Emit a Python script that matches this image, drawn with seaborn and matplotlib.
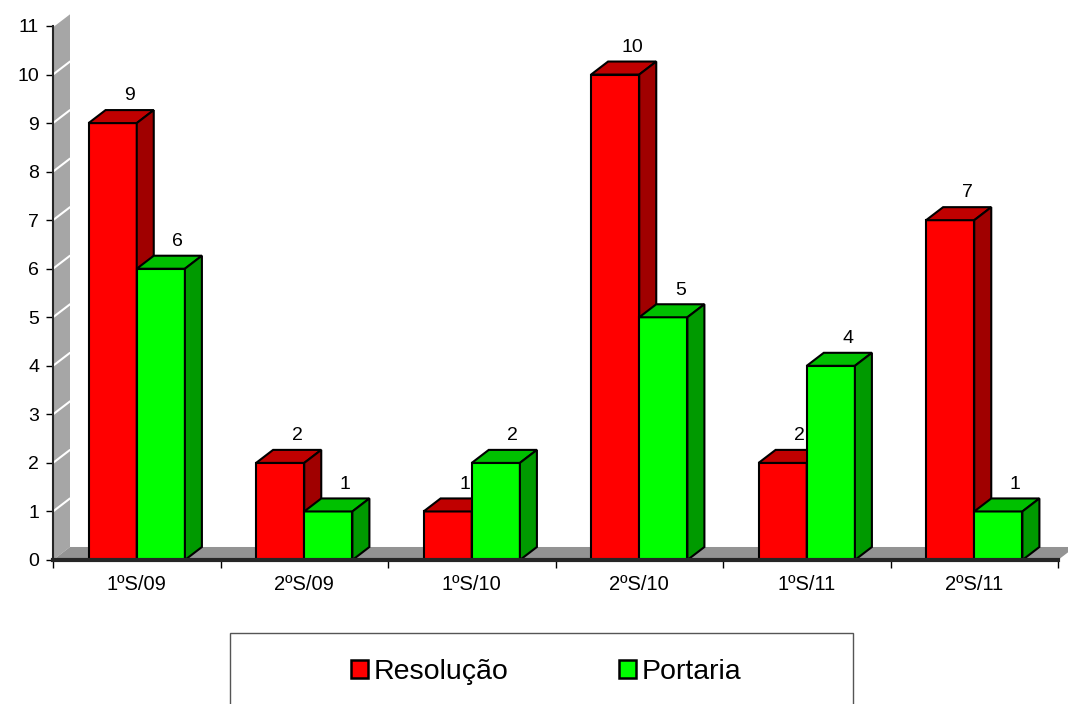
import numpy as np
import pandas as pd
import seaborn as sns
import matplotlib.pyplot as plt
from matplotlib.patches import Polygon, Patch, Rectangle

# dados
periodos = ['1ºS/09', '2ºS/09', '1ºS/10', '2ºS/10', '1ºS/11', '2ºS/11']
resolucao = [9, 2, 1, 10, 2, 7]
portaria = [6, 1, 2, 5, 4, 1]
series = ['Resolução', 'Portaria']

cores_frente = {'Resolução': '#FF0000', 'Portaria': '#00FF00'}
cores_topo = {'Resolução': '#C00000', 'Portaria': '#00C000'}
cores_lado = {'Resolução': '#A00000', 'Portaria': '#009A00'}

df = pd.DataFrame({
    'periodo': periodos * 2,
    'valor': resolucao + portaria,
    'tipo': [series[0]] * len(periodos) + [series[1]] * len(periodos),
})

sns.set_style('white')
plt.rcParams['font.family'] = ['Liberation Sans', 'DejaVu Sans']
plt.rcParams['text.color'] = 'black'
plt.rcParams['xtick.color'] = 'black'
plt.rcParams['ytick.color'] = 'black'

fig = plt.figure(figsize=(10.68, 7.04), dpi=100)
ax = fig.add_axes([53 / 1068, 144 / 704, 1005 / 1068, 534 / 704])
ax.set_facecolor('none')

# profundidade do efeito 3D (em unidades de dados)
dx = 0.1015
dy = 0.268

# parede e piso
ax.add_patch(Polygon([(-0.5, 0), (-0.5 + dx, dy), (-0.5 + dx, 11 + dy), (-0.5, 11)],
                     closed=True, facecolor='#A6A6A6', edgecolor='none', zorder=0, clip_on=False))
for k in range(1, 12):
    ax.plot([-0.5, -0.5 + dx], [k, k + dy], color='white', lw=1.5, zorder=0.5, clip_on=False)
ax.add_patch(Polygon([(-0.5, 0), (5.5, 0), (5.5 + dx, dy), (-0.5 + dx, dy)],
                     closed=True, facecolor='#939393', edgecolor='none', zorder=0.6, clip_on=False))

sns.barplot(data=df, x='periodo', y='valor', hue='tipo', palette=cores_frente,
            width=0.575, edgecolor='black', linewidth=1.5, saturation=1,
            legend=False, ax=ax)

for i, cont in enumerate(ax.containers):
    nome = series[i]
    z = 2 + i
    for p in cont.patches:
        p.set_zorder(z)
        x0 = p.get_x()
        w = p.get_width()
        h = p.get_height()
        topo = [(x0, h), (x0 + dx, h + dy), (x0 + w + dx, h + dy), (x0 + w, h)]
        lado = [(x0 + w, 0), (x0 + w, h), (x0 + w + dx, h + dy), (x0 + w + dx, dy)]
        ax.add_patch(Polygon(topo, closed=True, facecolor=cores_topo[nome],
                             edgecolor='black', lw=1.5, zorder=z, clip_on=False))
        ax.add_patch(Polygon(lado, closed=True, facecolor=cores_lado[nome],
                             edgecolor='black', lw=1.5, zorder=z, clip_on=False))
        ax.text(x0 + w / 2 + dx, h + dy + 0.2, f'{int(h)}', ha='center', va='baseline',
                fontsize=14, zorder=5)

ax.set_xlim(-0.5, 5.5)
ax.set_ylim(0, 11)
ax.set_yticks(range(0, 12))
ax.set_xlabel('')
ax.set_ylabel('')

for s in ['top', 'right']:
    ax.spines[s].set_visible(False)
ax.spines['left'].set_linewidth(1.5)
ax.spines['bottom'].set_linewidth(3)
ax.spines['left'].set_zorder(6)
ax.spines['bottom'].set_zorder(6)

ax.tick_params(axis='y', direction='out', length=5, width=1, left=True, labelsize=14, pad=5)
ax.tick_params(axis='x', which='major', length=0, labelsize=14.5, pad=11)
ax.set_xticks(np.arange(-0.5, 6, 1), minor=True)
ax.tick_params(axis='x', which='minor', direction='out', length=6, width=1, bottom=True)

# legenda
fig.add_artist(Rectangle((230 / 1068, -0.05), 623 / 1068, 0.05 + 71 / 704,
                         transform=fig.transFigure, facecolor='white',
                         edgecolor='#555555', lw=1))
handles = [Patch(facecolor=cores_frente[s], edgecolor='black', lw=1.8) for s in series]
fig.legend(handles, series, loc='center', bbox_to_anchor=(546 / 1068, 32 / 704),
           ncol=2, frameon=False, fontsize=20.5, handlelength=0.58, handleheight=0.58,
           handletextpad=0.2, columnspacing=3.9)

fig.savefig('out.png', dpi=100, facecolor='white')
